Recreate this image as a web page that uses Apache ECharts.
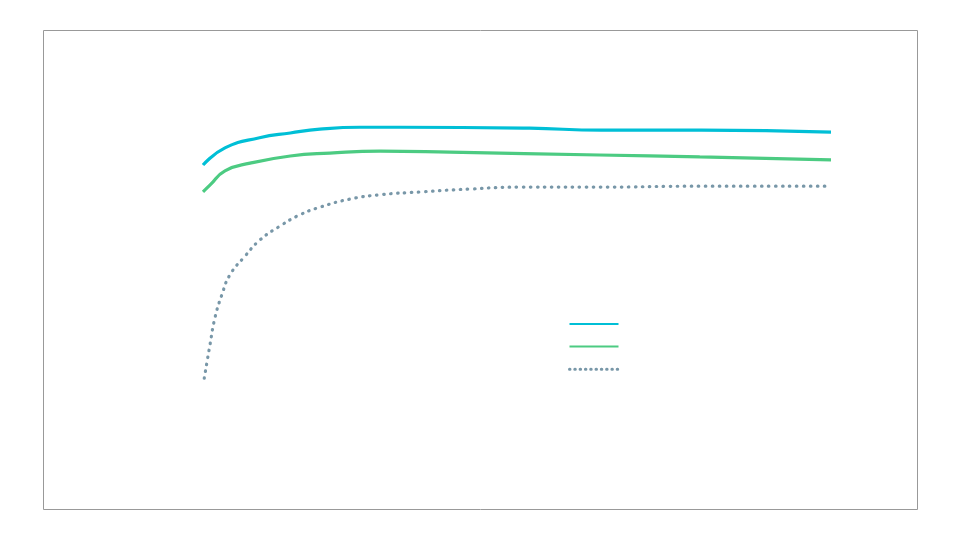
<!DOCTYPE html>
<html>
<head>
<meta charset="utf-8">
<script src="https://cdn.jsdelivr.net/npm/echarts@6/dist/echarts.min.js"></script>
<style>
  html, body { margin: 0; padding: 0; background: #fff; }
  #chart { width: 960px; height: 540px; }
</style>
</head>
<body>
<div id="chart"></div>
<script>
// epoch (0-100) vs. value (0-100)
const cyanPoints = [
    [0, 71.8], [3.5, 75.4], [9, 77.5], [13.9, 78.5], [18.6, 79.3], [25, 79.7],
    [31.4, 79.7], [52, 79.5], [63.4, 79.1], [79.3, 79.1], [100, 78.7]
];
const greenPoints = [
    [0, 66.2], [1.1, 67.6], [3.5, 70.6], [7.5, 72.2], [13.9, 73.7], [20.2, 74.3],
    [28.2, 74.7], [39.3, 74.5], [63.1, 73.9], [79.1, 73.5], [100, 72.9]
];
const greyPoints = [
    [0.2, 27.3], [1.1, 34.2], [1.9, 39.9], [3, 44.7], [4.3, 48.9], [6.7, 52.8],
    [9.1, 56.2], [12.3, 59.1], [15.4, 61.4], [18.6, 63.0], [23.4, 64.7], [28.2, 65.6],
    [34.6, 66.2], [42.5, 66.8], [50.5, 67.2], [63.2, 67.2], [79.1, 67.4], [100, 67.4]
];
const seriesNames = ['a', 'b', 'c'];

function init(){
    const element = document.getElementById("chart");
    const instance = echarts.init(element);
    let option = {
        animation: false,
        graphic: [{
            type: 'rect',
            shape: { x: 43.5, y: 30.5, width: 874, height: 479 },
            style: { fill: 'none', stroke: '#999', lineWidth: 1 }
        }],
        grid: { left: 203, right: 129, top: 30, bottom: 31 },
        xAxis: { type: 'value', min: 0, max: 100, show: false },
        yAxis: { type: 'value', min: 0, max: 100, show: false },
        legend: {
            orient: 'vertical',
            left: 563,
            top: 312,
            itemWidth: 49,
            itemHeight: 14,
            itemGap: 10,
            formatter: () => '',
            itemStyle: { opacity: 0 },
            data: [
                seriesNames[0],
                seriesNames[1],
                { name: seriesNames[2], lineStyle: { type: [0.5, 4.8], width: 3 } }
            ]
        },
        series: [
            {
                name: seriesNames[0], type: 'line', smooth: true, symbol: 'none',
                data: cyanPoints,
                lineStyle: { color: '#00BFD6', width: 3.2 },
                itemStyle: { color: '#00BFD6' }
            },
            {
                name: seriesNames[1], type: 'line', smooth: true, symbol: 'none',
                data: greenPoints,
                lineStyle: { color: '#4CCB82', width: 3.2 },
                itemStyle: { color: '#4CCB82' }
            },
            {
                name: seriesNames[2], type: 'line', smooth: true, symbol: 'none',
                data: greyPoints,
                lineStyle: { color: '#7897A8', width: 3.2, type: [0.5, 6.5], cap: 'round' },
                itemStyle: { color: '#7897A8' }
            }
        ]
    };

    instance && instance.setOption(option)

    window.onresize = function(){
        instance.resize();
    }
}
init();
</script>
</body>
</html>
